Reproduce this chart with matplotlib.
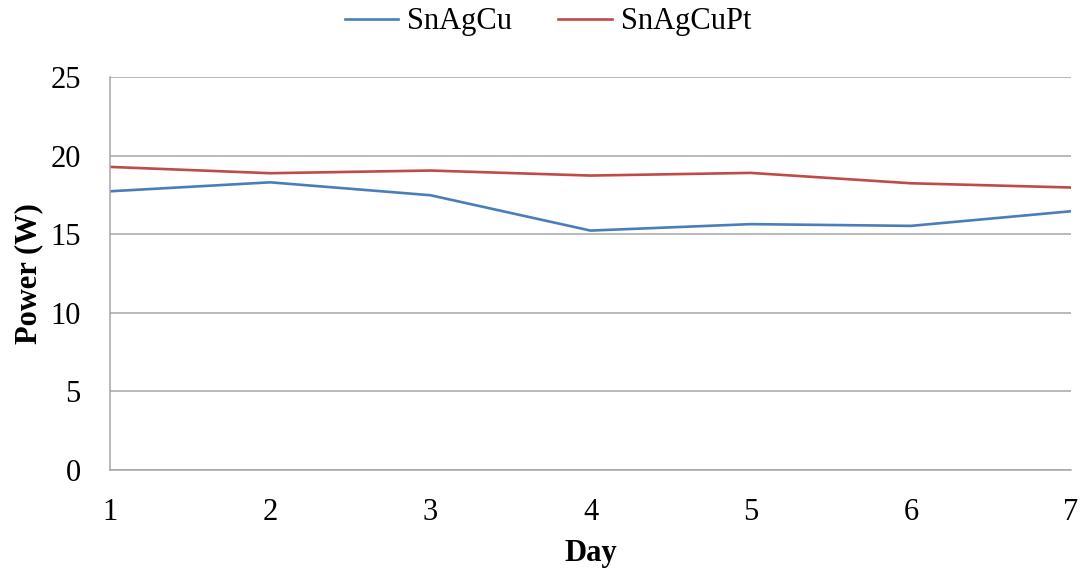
import matplotlib.pyplot as plt

days = [1, 2, 3, 4, 5, 6, 7]
snagcu = [17.73, 18.30, 17.48, 15.23, 15.64, 15.53, 16.46]
snagcupt = [19.28, 18.88, 19.05, 18.73, 18.90, 18.24, 17.97]

plt.rcParams['font.family'] = ['Liberation Serif', 'DejaVu Serif']

fig = plt.figure(figsize=(10.81, 5.74), dpi=100)
ax = fig.add_axes([110 / 1081, 1 - 470 / 574, 961 / 1081, 393 / 574])

ax.plot(days, snagcu, color='#4a7ebb', lw=1.9, label='SnAgCu')
ax.plot(days, snagcupt, color='#be4b48', lw=1.9, label='SnAgCuPt')

ax.set_xlim(1, 7)
ax.set_ylim(0, 25)
ax.set_xticks(days)
ax.set_yticks(range(0, 26, 5))
ax.grid(axis='y', color='#a6a6a6', lw=1.1)
ax.set_axisbelow(True)

for s in ['top', 'right']:
    ax.spines[s].set_visible(False)
for s in ['left', 'bottom']:
    ax.spines[s].set_color('#a6a6a6')
    ax.spines[s].set_linewidth(1.1)

ax.tick_params(axis='both', length=0, labelsize=22)
ax.tick_params(axis='y', pad=21)
ax.tick_params(axis='x', pad=20)

ax.set_xlabel('Day', fontsize=22, fontweight='bold', labelpad=9)
ax.set_ylabel('Power (W)', fontsize=22, fontweight='bold', labelpad=5)

fig.legend(loc='upper center', bbox_to_anchor=(0.507, 1.035), ncol=2, frameon=False,
           fontsize=22, handlelength=1.75, columnspacing=1.5, handletextpad=0.3)

fig.savefig('out.png', dpi=100)
